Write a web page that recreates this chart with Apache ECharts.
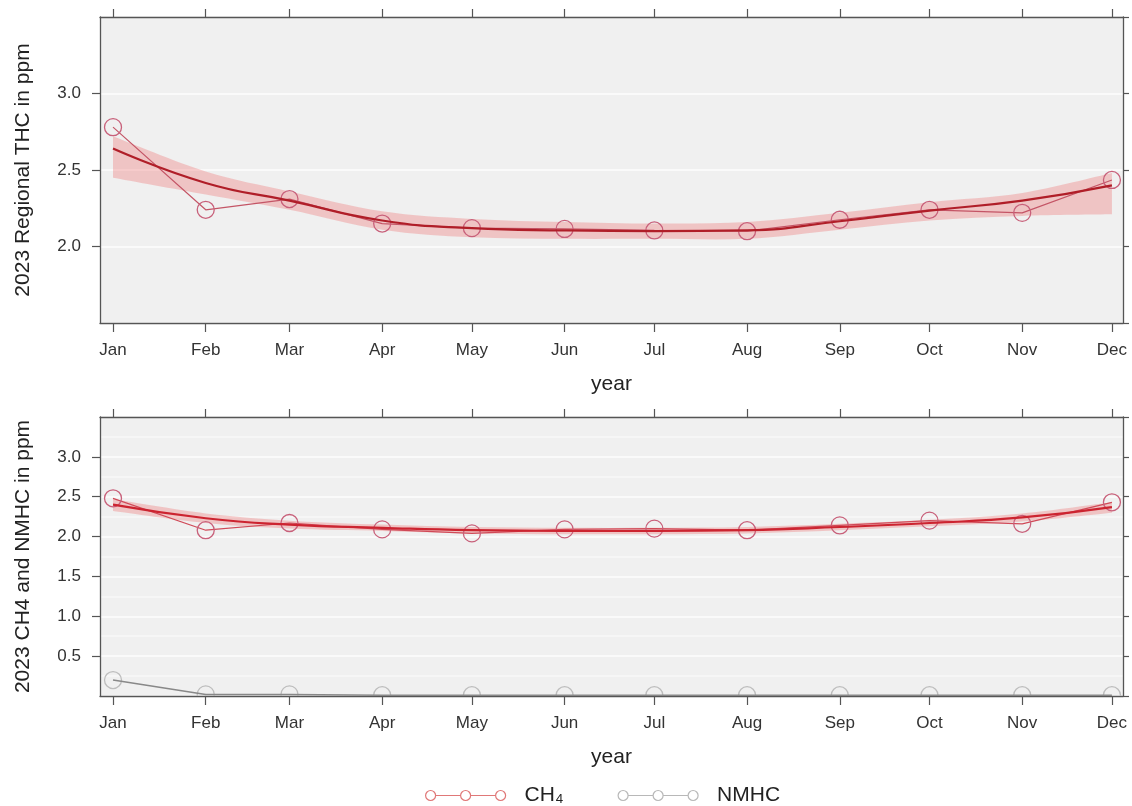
<!DOCTYPE html>
<html><head><meta charset="utf-8">
<script src="https://cdn.jsdelivr.net/npm/echarts@6/dist/echarts.min.js"></script>
<style>html,body{margin:0;padding:0;background:#fff}#c{width:1132px;height:806px}</style>
</head><body><div id="c"></div>
<script>
const monthLabels = ['Jan','Feb','Mar','Apr','May','Jun','Jul','Aug','Sep','Oct','Nov','Dec'];
const yTicksTop = [1.5, 3.5, 0.5];     // min, max, interval
const yTicksBottom = [0, 3.5, 0.5];

// Top panel: regional THC
const thcObs = [2.78, 2.24, 2.31, 2.15, 2.12, 2.115, 2.105, 2.10, 2.175, 2.24, 2.22, 2.435];
const thcFit = [2.64, 2.415, 2.30, 2.17, 2.12, 2.105, 2.10, 2.105, 2.165, 2.235, 2.30, 2.40];
const thcLow = [2.45, 2.34, 2.24, 2.11, 2.06, 2.05, 2.05, 2.05, 2.11, 2.17, 2.20, 2.21];
const thcUp  = [2.72, 2.49, 2.36, 2.23, 2.18, 2.16, 2.15, 2.16, 2.22, 2.29, 2.35, 2.48];

// Bottom panel: CH4 and NMHC
const ch4Obs = [2.48, 2.08, 2.17, 2.09, 2.04, 2.09, 2.10, 2.08, 2.14, 2.20, 2.16, 2.43];
const ch4Fit = [2.40, 2.23, 2.15, 2.11, 2.08, 2.07, 2.07, 2.08, 2.12, 2.17, 2.24, 2.37];
const ch4Low = [2.32, 2.17, 2.10, 2.07, 2.04, 2.03, 2.03, 2.04, 2.08, 2.13, 2.19, 2.30];
const ch4Up  = [2.47, 2.29, 2.20, 2.15, 2.12, 2.11, 2.11, 2.12, 2.16, 2.21, 2.29, 2.43];
const nmhcObs = [0.20, 0.02, 0.02, 0.01, 0.01, 0.01, 0.01, 0.01, 0.01, 0.01, 0.01, 0.01];

// x positions: day of year (0 = 1 Jan 2023) of the first of each month
const monthDays = monthLabels.map((_, i) => Math.round((Date.UTC(2023, i, 1) - Date.UTC(2023, 0, 1)) / 864e5));
const xMin = -4.35, xMax = 337.7;
const pairs = arr => arr.map((v, i) => [monthDays[i], v]);

const FONT = 'Liberation Sans, Arial, sans-serif';
const AX = '#555';

function xAxes(gi) {
  return [{
    type: 'value', gridIndex: gi, position: 'bottom', min: xMin, max: xMax,
    name: 'year', nameLocation: 'middle', nameGap: 51,
    nameTextStyle: {fontFamily: FONT, fontSize: 21, color: '#222'},
    axisLine: {show: true, onZero: false, lineStyle: {color: AX, width: 1.3}},
    axisTick: {show: true, length: 9, customValues: monthDays, lineStyle: {color: AX, width: 1.2}},
    axisLabel: {customValues: monthDays, margin: 19, fontFamily: FONT, fontSize: 17, color: '#333',
      formatter: v => monthLabels[monthDays.indexOf(Math.round(v))] || ''},
    splitLine: {show: false}
  }, {
    type: 'value', gridIndex: gi, position: 'top', min: xMin, max: xMax,
    axisLine: {show: true, onZero: false, lineStyle: {color: AX, width: 1.3}},
    axisTick: {show: true, length: 8, customValues: monthDays, lineStyle: {color: AX, width: 1.2}},
    axisLabel: {show: false, customValues: monthDays},
    splitLine: {show: false}
  }];
}
function yAxes(gi, t, name, minor) {
  return [{
    type: 'value', gridIndex: gi, position: 'left', min: t[0], max: t[1], interval: t[2],
    name: name, nameLocation: 'middle', nameGap: 66,
    nameTextStyle: {fontFamily: FONT, fontSize: 21, color: '#222'},
    axisLine: {show: true, onZero: false, lineStyle: {color: AX, width: 1.3}},
    axisTick: {show: true, length: 8, lineStyle: {color: AX, width: 1.2}},
    axisLabel: {showMinLabel: false, showMaxLabel: false, margin: 19, fontFamily: FONT, fontSize: 17, color: '#333',
      formatter: v => v.toFixed(1)},
    splitLine: {show: true, lineStyle: {color: '#fafafa', width: 2}},
    minorTick: {show: false, splitNumber: 2},
    minorSplitLine: {show: minor, lineStyle: {color: '#f7f7f7', width: 1.5}}
  }, {
    type: 'value', gridIndex: gi, position: 'right', min: t[0], max: t[1], interval: t[2],
    axisLine: {show: true, onZero: false, lineStyle: {color: AX, width: 1.3}},
    axisTick: {show: true, length: 6, lineStyle: {color: AX, width: 1.2}},
    axisLabel: {show: false},
    splitLine: {show: false}
  }];
}

// Catmull-Rom style cubic path through screen points (drawing only)
function curveThrough(pts) {
  let d = '';
  for (let i = 0; i < pts.length - 1; i++) {
    const p0 = pts[i - 1] || pts[i], p1 = pts[i], p2 = pts[i + 1], p3 = pts[i + 2] || pts[i + 1];
    const c1 = [p1[0] + (p2[0] - p0[0]) / 6, p1[1] + (p2[1] - p0[1]) / 6];
    const c2 = [p2[0] - (p3[0] - p1[0]) / 6, p2[1] - (p3[1] - p1[1]) / 6];
    d += ' C' + c1[0] + ',' + c1[1] + ' ' + c2[0] + ',' + c2[1] + ' ' + p2[0] + ',' + p2[1];
  }
  return d;
}

const bandColor = 'rgba(238,95,95,0.30)';
function bandSeries(xi, yi, lo, up) {
  return {
    type: 'custom', xAxisIndex: xi, yAxisIndex: yi, silent: true, z: 1, clip: true,
    data: lo.map((v, i) => [monthDays[i], v, up[i]]),
    encode: {x: 0, y: [1, 2]},
    renderItem: function (params, api) {
      if (params.dataIndex !== 0) return null;
      const u = up.map((v, i) => api.coord([monthDays[i], v]));
      const l = lo.map((v, i) => api.coord([monthDays[i], v])).reverse();
      const d = 'M' + u[0][0] + ',' + u[0][1] + curveThrough(u) +
        ' L' + l[0][0] + ',' + l[0][1] + curveThrough(l) + ' Z';
      return {type: 'path', shape: {pathData: d}, style: {fill: bandColor, stroke: null}};
    }
  };
}
function obsSeries(name, xi, yi, data, lineColor, circleColor) {
  return {
    name: name, type: 'line', xAxisIndex: xi, yAxisIndex: yi, data: pairs(data),
    symbol: 'circle', symbolSize: 17,
    lineStyle: {color: lineColor, width: 1.2},
    itemStyle: {color: 'rgba(0,0,0,0)', borderColor: circleColor, borderWidth: 1.3},
    z: 3
  };
}
function fitSeries(xi, yi, data, color) {
  return {
    type: 'line', xAxisIndex: xi, yAxisIndex: yi, data: pairs(data), smooth: true,
    symbol: 'none', lineStyle: {color: color, width: 2.2}, silent: true, z: 4
  };
}
function clippedCircles(name, xi, yi, data, color) {
  return {
    name: name, type: 'custom', xAxisIndex: xi, yAxisIndex: yi, clip: true, silent: true, z: 3,
    data: pairs(data), encode: {x: 0, y: 1},
    renderItem: function (params, api) {
      const p = api.coord([api.value(0), api.value(1)]);
      return {type: 'circle', shape: {cx: p[0], cy: p[1], r: 8.5},
        style: {fill: 'none', stroke: color, lineWidth: 1.3}};
    }
  };
}

const legendIcon = 'path://M0,5 A5,5 0 1 1 10,5 A5,5 0 1 1 0,5 M10,5 L35,5 M35,5 A5,5 0 1 1 45,5 A5,5 0 1 1 35,5 M45,5 L70,5 M70,5 A5,5 0 1 1 80,5 A5,5 0 1 1 70,5';

const option = {
  backgroundColor: '#ffffff',
  animation: false,
  textStyle: {fontFamily: FONT},
  grid: [
    {left: 100, right: 9, top: 17, height: 306, show: true, backgroundColor: '#f0f0f0', borderWidth: 0},
    {left: 100, right: 9, top: 417, height: 279, show: true, backgroundColor: '#f0f0f0', borderWidth: 0}
  ],
  xAxis: [...xAxes(0), ...xAxes(1)],
  yAxis: [...yAxes(0, yTicksTop, '2023 Regional THC in ppm', false), ...yAxes(1, yTicksBottom, '2023 CH4 and NMHC in ppm', true)],
  legend: {
    left: 420, top: 780, itemWidth: 80, itemHeight: 10, itemGap: 54,
    textStyle: {fontFamily: FONT, fontSize: 21, color: '#222', padding: [0, 0, 0, 14]},
    data: [
      {name: 'CH\u2084', icon: legendIcon, itemStyle: {color: 'rgba(0,0,0,0)', borderColor: '#e07878', borderWidth: 1.2}},
      {name: 'NMHC', icon: legendIcon, itemStyle: {color: 'rgba(0,0,0,0)', borderColor: '#b8b8b8', borderWidth: 1.2}}
    ]
  },
  series: [
    bandSeries(0, 0, thcLow, thcUp),
    obsSeries('THC', 0, 0, thcObs, '#c45566', '#c8607a'),
    fitSeries(0, 0, thcFit, '#b01e28'),
    bandSeries(2, 2, ch4Low, ch4Up),
    obsSeries('CH\u2084', 2, 2, ch4Obs, '#d04a58', '#c8607a'),
    fitSeries(2, 2, ch4Fit, '#cc2430'),
    {name: 'NMHC', type: 'line', xAxisIndex: 2, yAxisIndex: 2, data: pairs(nmhcObs), symbol: 'none',
      lineStyle: {color: '#888888', width: 1.5}, z: 3},
    clippedCircles('NMHC', 2, 2, nmhcObs, '#bdbdbd')
  ]
};
const chart = echarts.init(document.getElementById('c'), null, {renderer: 'canvas'});
chart.setOption(option);
</script></body></html>
